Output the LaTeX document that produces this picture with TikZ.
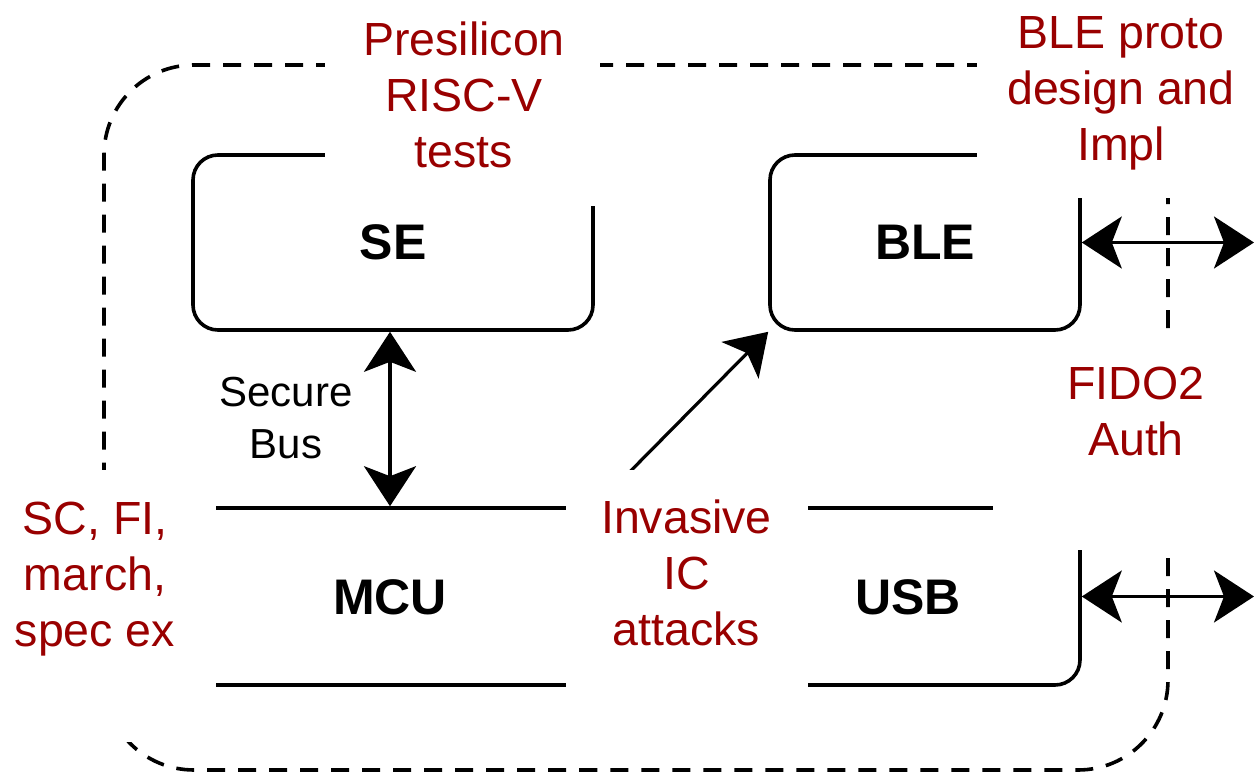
\documentclass[tikz,border=0pt]{standalone}
\usepackage{fontspec}
\setmainfont{Liberation Sans}
\usetikzlibrary{arrows.meta}
\definecolor{lblred}{RGB}{153,0,0}
\begin{document}
\begin{tikzpicture}[x=1pt,y=-1pt,
  box/.style={draw, line width=3.6pt, rounded corners=25pt, inner sep=0pt},
  frame/.style={draw, line width=3.6pt, dash pattern=on 18pt off 13pt, rounded corners=90pt, inner sep=0pt},
  boldlbl/.style={font=\fontsize{50}{60}\selectfont\bfseries, inner sep=0pt},
  redlbl/.style={text=lblred, font=\fontsize{46.5}{56}\selectfont, align=center, inner sep=0pt},
  mask/.style={fill=white},
  link/.style={line width=3.2pt, -{Stealth[length=40pt,width=52pt,inset=10pt]}},
  dbl/.style={line width=3.2pt, {Stealth[length=40pt,width=52pt,inset=10pt]}-{Stealth[length=40pt,width=52pt,inset=10pt]}}
]
\useasboundingbox (0,0) rectangle (1254,776);

% outer dashed chip frame
\node[frame, minimum width=1064pt, minimum height=705pt] (chip) at (636,417.5) {};

% blocks
\node[box, minimum width=400pt, minimum height=175pt, boldlbl] (SE) at (393,242.5) {SE};
\node[box, minimum width=310pt, minimum height=175pt, boldlbl] (BLE) at (925,242.5) {BLE};
\node[box, minimum width=930pt, minimum height=177pt] (mcubox) at (615,596.5) {};
\node[boldlbl] (MCU) at (390,597) {MCU};
\node[boldlbl] (USB) at (908,597) {USB};

% connectors
\coordinate (diagstart) at (596,506);
\coordinate (bleport) at (1254,242.5);
\coordinate (usbport) at (1254,596.5);
\draw[dbl] (SE.south -| MCU) -- (mcubox.north -| MCU);
\draw[link] (diagstart) -- (BLE.south west);
\draw[dbl] (BLE.east) -- (bleport);
\draw[dbl] (mcubox.east) -- (usbport);

\node[font=\fontsize{42}{52}\selectfont, align=center, inner sep=0pt] (sbus) at (286,418.5) {Secure\\Bus};

% red annotation labels on white backgrounds
\fill[mask] (325,-20) rectangle (600,206);
\node[redlbl] (presi) at (464,94.5) {Presilicon\\RISC-V\\tests};

\fill[mask] (977,-20) rectangle (1280,198);
\node[redlbl] (blep) at (1121,93) {BLE proto\\design and\\Impl};

\fill[mask] (993,333) rectangle (1280,550);
\node[redlbl] (fido) at (1136,411.5) {FIDO2\\Auth};

\fill[mask] (-10,470) rectangle (216,742);
\node[redlbl] (scfi) at (95,579.4) {SC, FI,\\march,\\spec ex};

\fill[mask] (566,470) rectangle (808,700);
\node[redlbl] (inv) at (686.5,572.5) {Invasive\\IC\\attacks};
\end{tikzpicture}
\end{document}
